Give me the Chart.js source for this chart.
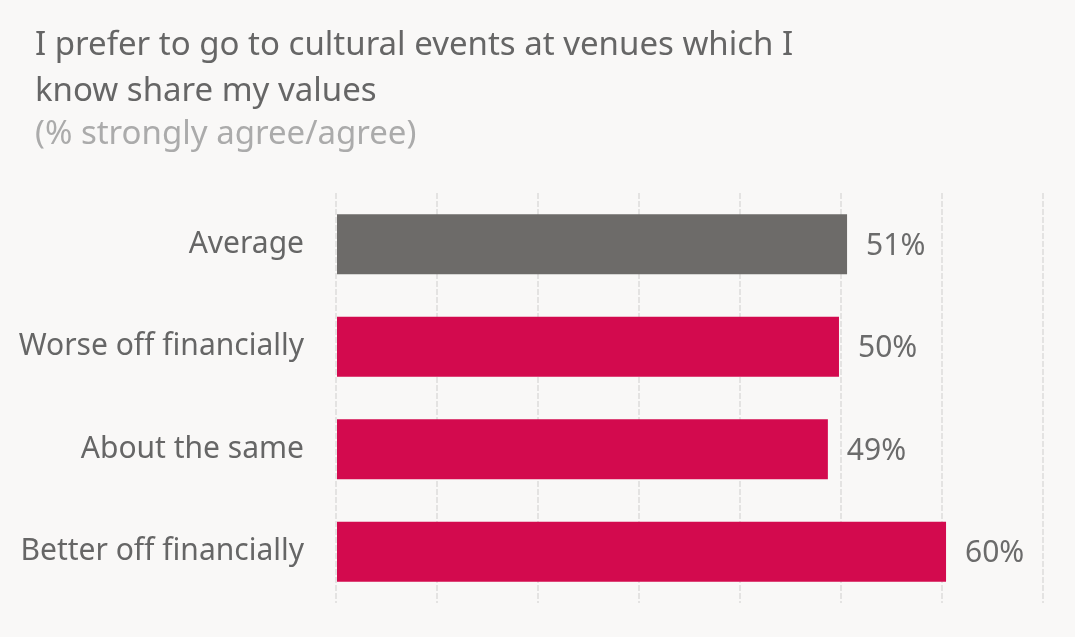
<!DOCTYPE html>
<html>
<head>
<meta charset="utf-8">
<script src="https://cdn.jsdelivr.net/npm/chart.js@4/dist/chart.umd.min.js"></script>
<style>
  html, body { margin: 0; padding: 0; background: #f9f8f7; }
  #wrap { width: 1075px; height: 637px; position: relative; font-family: 'Noto Sans', sans-serif; }
  #c { position: absolute; left: 0; top: 0; }
  .t { position: absolute; left: 35px; font-size: 33px; line-height: 44px; white-space: nowrap; }
  #t1 { top: 21px; color: #666666; }
  #t2 { top: 67px; color: #666666; }
  #sub { top: 110px; color: #ababab; }
</style>
</head>
<body>
<div id="wrap">
  <canvas id="c" width="1075" height="637"></canvas>
  <div class="t" id="t1"></div>
  <div class="t" id="t2"></div>
  <div class="t" id="sub"></div>
</div>
<script>
const titleLines = ['I prefer to go to cultural events at venues which I', 'know share my values'];
const subtitleText = '(% strongly agree/agree)';
const categories = ['Average', 'Worse off financially', 'About the same', 'Better off financially'];
const values = [50.6, 49.8, 48.7, 60.4];
const valueLabels = ['51%', '50%', '49%', '60%'];
const barColors = ['#6d6b69', '#d30a4e', '#d30a4e', '#d30a4e'];
const xTicks = [0, 10, 20, 30, 40, 50, 60, 70];

document.getElementById('t1').textContent = titleLines[0];
document.getElementById('t2').textContent = titleLines[1];
document.getElementById('sub').textContent = subtitleText;

const FONT = "'Noto Sans', sans-serif";

const valueLabelPlugin = {
  id: 'valueLabels',
  afterDatasetsDraw(chart) {
    const ctx = chart.ctx;
    const meta = chart.getDatasetMeta(0);
    ctx.save();
    ctx.font = "30px " + FONT;
    ctx.fillStyle = '#6b6b6b';
    ctx.textAlign = 'left';
    ctx.textBaseline = 'middle';
    meta.data.forEach((bar, i) => {
      ctx.fillText(valueLabels[i], bar.x + 19, bar.y + 2);
    });
    ctx.restore();
  }
};

new Chart(document.getElementById('c'), {
  type: 'bar',
  data: {
    labels: categories,
    datasets: [{
      data: values,
      backgroundColor: barColors,
      borderWidth: 0,
      barPercentage: 0.585,
      categoryPercentage: 1
    }]
  },
  options: {
    indexAxis: 'y',
    responsive: false,
    animation: false,
    devicePixelRatio: 1,
    layout: { padding: { left: 0, right: 32, top: 193, bottom: 34 } },
    plugins: {
      legend: { display: false },
      tooltip: { enabled: false },
      title: { display: false },
      subtitle: { display: false }
    },
    scales: {
      x: {
        min: 0,
        max: 70,
        afterBuildTicks(scale) { scale.ticks = xTicks.map(v => ({ value: v })); },
        afterFit(scale) {
          scale.height = 0;
          scale.paddingLeft = 0; scale.paddingRight = 0;
          scale.paddingTop = 0; scale.paddingBottom = 0;
        },
        ticks: { display: false },
        grid: { color: '#e4e3e2', lineWidth: 2, drawTicks: false },
        border: { display: false, dash: [6, 2] }
      },
      y: {
        afterFit(scale) {
          scale.width = 336;
          scale.paddingTop = 0; scale.paddingBottom = 0;
          scale.paddingLeft = 0; scale.paddingRight = 0;
        },
        grid: { display: false, drawTicks: false },
        border: { display: false },
        ticks: {
          color: '#666666',
          padding: 32,
          font: { family: FONT, size: 30 }
        }
      }
    }
  },
  plugins: [valueLabelPlugin]
});
</script>
</body>
</html>
